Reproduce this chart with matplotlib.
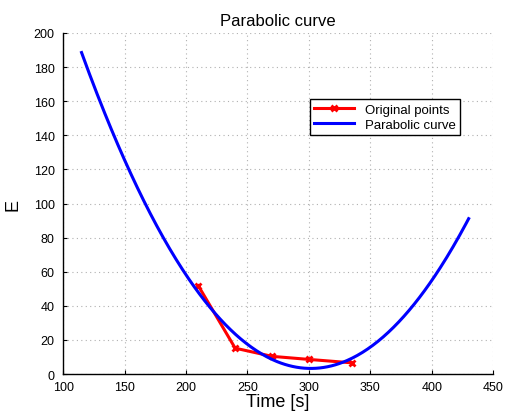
import numpy as np
import matplotlib.pyplot as plt

plt.rcParams['font.family'] = ['Liberation Sans', 'DejaVu Sans']

# original measured points
t_pts = [210, 240, 270, 300, 335]
e_pts = [51.8, 15.2, 10.4, 8.6, 6.6]

# range the fitted parabola is drawn over
t_start, t_end = 115, 430

xticks = [100, 150, 200, 250, 300, 350, 400, 450]
yticks = [0, 20, 40, 60, 80, 100, 120, 140, 160, 180, 200]

coef = np.polyfit(t_pts, e_pts, 2)
t_fit = np.linspace(t_start, t_end, 300)
e_fit = np.polyval(coef, t_fit)

fig = plt.figure(figsize=(5.09, 4.14), dpi=100)
ax = fig.add_axes([0.124, 0.094, 0.845, 0.824])

ax.plot(t_pts, e_pts, color='red', lw=2.2, marker='x', ms=5, mew=2, label='Original points')
ax.plot(t_fit, e_fit, color='blue', lw=2.2, label='Parabolic curve')

ax.set_xlim(100, 450)
ax.set_ylim(0, 200)
ax.set_xticks(xticks)
ax.set_yticks(yticks)
ax.tick_params(direction='in', labelsize=9, length=3, top=False, right=False)
ax.tick_params(axis='x', pad=5)
ax.tick_params(axis='y', pad=6)
ax.grid(True, color='#b0b0b0', linestyle=(0, (1, 3)), lw=0.8)
ax.spines['top'].set_visible(False)
ax.spines['right'].set_visible(False)
ax.spines['left'].set_linewidth(1.0)
ax.spines['bottom'].set_linewidth(1.0)

ax.set_title('Parabolic curve', fontsize=12, pad=6)
ax.set_xlabel('Time [s]', fontsize=13, labelpad=0)
ax.set_ylabel('E', fontsize=13, labelpad=9)

leg = ax.legend(loc='upper right', bbox_to_anchor=(0.923, 0.806), fontsize=9.5,
                fancybox=False, framealpha=1, edgecolor='black',
                borderpad=0.35, handlelength=3, labelspacing=0.2, borderaxespad=0)
leg.get_frame().set_linewidth(1.0)

fig.savefig('out.png', dpi=100)
